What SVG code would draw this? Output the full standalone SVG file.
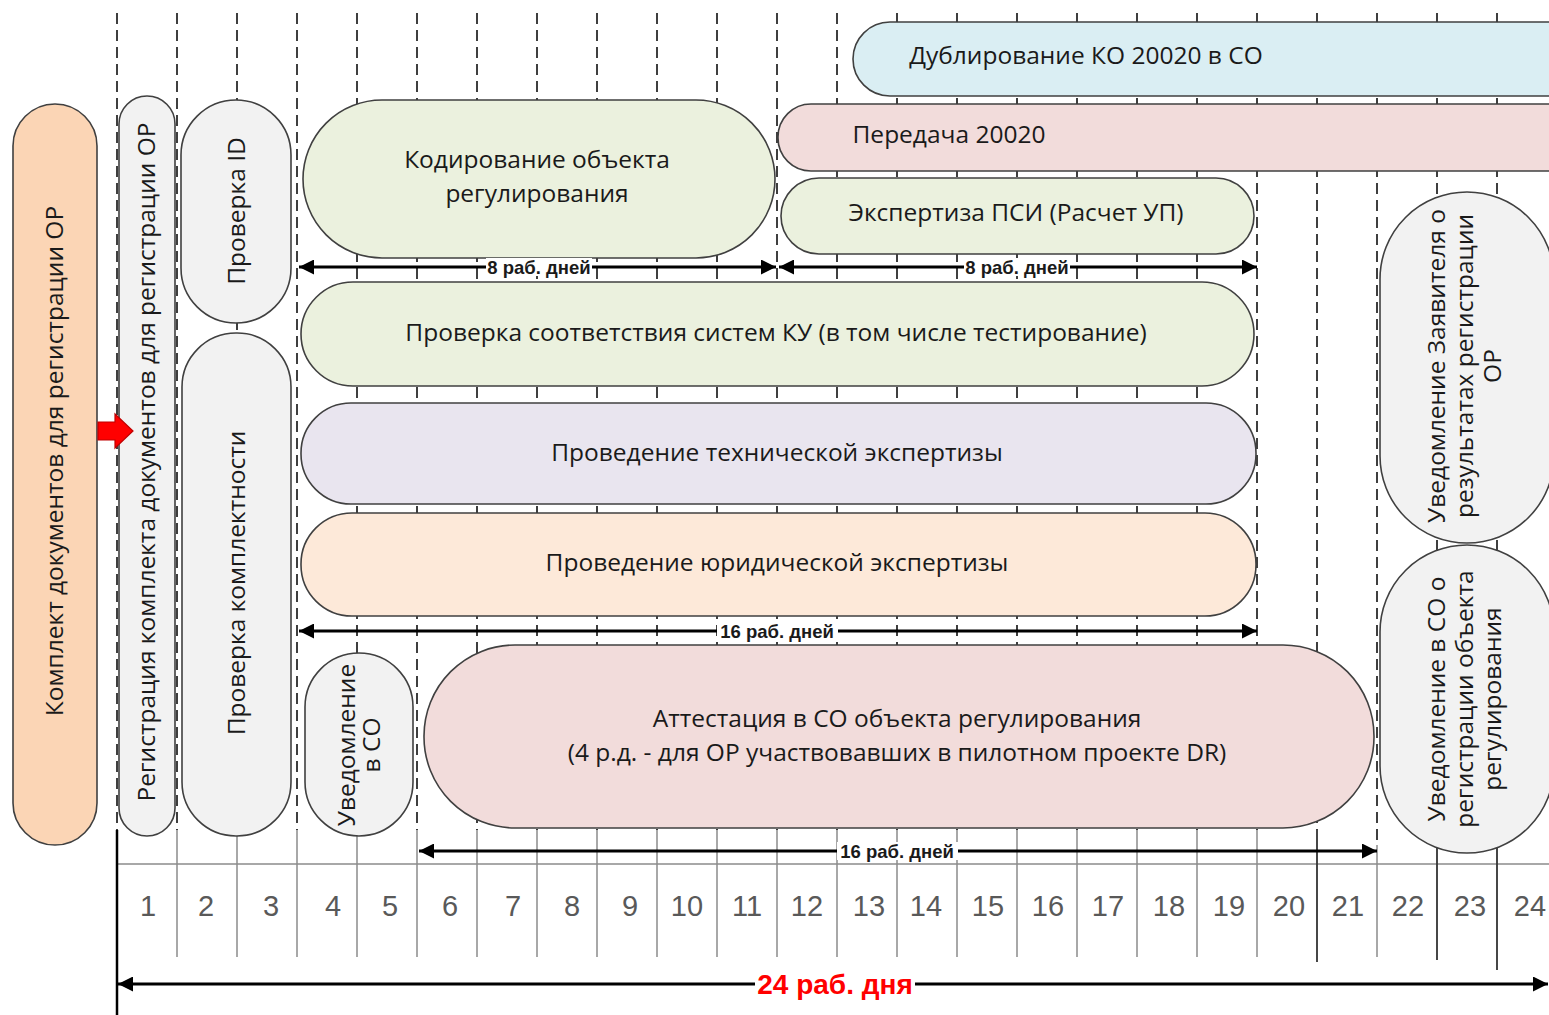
<svg xmlns="http://www.w3.org/2000/svg" width="1549" height="1015" viewBox="0 0 1549 1015">
<style>
.grid{stroke:#000;stroke-width:1.5;stroke-dasharray:11 6;fill:none}
.tbl{stroke:#8c8c8c;stroke-width:1.5;fill:none}
.node{stroke:#404040;stroke-width:1.6}
.t{font-family:"Open Sans","Liberation Sans",sans-serif;font-size:24.5px;fill:#1a1a1a;text-anchor:middle}
.al{font-family:"Liberation Sans",sans-serif;font-weight:bold;font-size:18.5px;fill:#1a1a1a;text-anchor:middle}
.num{font-family:"Liberation Sans",sans-serif;font-size:29px;fill:#595959;text-anchor:middle}
.arr{stroke:#000;stroke-width:3;fill:none;marker-start:url(#ah);marker-end:url(#ah)}
</style>
<defs>
<marker id="ah" viewBox="0 0 10 10" refX="10" refY="5" markerWidth="5.5" markerHeight="5" orient="auto-start-reverse" markerUnits="strokeWidth">
<path d="M0,0 L10,5 L0,10 Z" fill="#000"/>
</marker>
</defs>
<rect width="1549" height="1015" fill="#fff"/>
<g id="grid">
<path class="grid" d="M117,13V830M177,13V830M237,13V830M297,13V830M357,13V830M417,13V830M477,13V830M537,13V830M597,13V830M657,13V830M717,13V830M777,13V830M837,13V830M897,13V830M957,13V830M1017,13V830M1077,13V830M1137,13V830M1197,13V830M1257,13V830M1317,13V830M1377,13V845M1437,13V845M1497,13V845"/>
<path class="tbl" d="M117,864H1549M177,830V957M237,830V957M297,830V957M357,830V957M417,830V957M477,830V957M537,830V957M597,830V957M657,830V957M717,830V957M777,830V957M837,830V957M897,830V957M957,830V957M1017,830V957M1077,830V957M1137,830V957M1197,830V957M1257,830V957M1377,845V957"/>
<path d="M1317,830V962M1437,845V960M1497,845V970" stroke="#333" stroke-width="1.8" fill="none"/>
<path d="M117,830V1015" stroke="#000" stroke-width="2.5" fill="none"/>
</g>
<g id="days">
<text class="num" x="148" y="916">1</text>
<text class="num" x="206" y="916">2</text>
<text class="num" x="271" y="916">3</text>
<text class="num" x="333" y="916">4</text>
<text class="num" x="390" y="916">5</text>
<text class="num" x="450" y="916">6</text>
<text class="num" x="513" y="916">7</text>
<text class="num" x="572" y="916">8</text>
<text class="num" x="630" y="916">9</text>
<text class="num" x="687" y="916">10</text>
<text class="num" x="747" y="916">11</text>
<text class="num" x="807" y="916">12</text>
<text class="num" x="869" y="916">13</text>
<text class="num" x="926" y="916">14</text>
<text class="num" x="988" y="916">15</text>
<text class="num" x="1048" y="916">16</text>
<text class="num" x="1108" y="916">17</text>
<text class="num" x="1169" y="916">18</text>
<text class="num" x="1229" y="916">19</text>
<text class="num" x="1289" y="916">20</text>
<text class="num" x="1348" y="916">21</text>
<text class="num" x="1408" y="916">22</text>
<text class="num" x="1470" y="916">23</text>
<text class="num" x="1530" y="916">24</text>
</g>
<g id="n-komplekt">
<rect class="node" x="13" y="104" width="84" height="741" rx="42" fill="#FBD5B5"/>
<text class="t" transform="translate(63,461) rotate(-90)">Комплект документов для регистрации ОР</text>
</g>
<g id="n-registracia">
<rect class="node" x="119" y="96" width="56" height="740" rx="28" fill="#F2F2F2"/>
<text class="t" transform="translate(155,462) rotate(-90)">Регистрация комплекта документов для регистрации ОР</text>
</g>
<g id="n-arrow-red">
<path d="M98,422H115V414L133,431L115,448V440H98Z" fill="#FF0000" stroke="#C00000" stroke-width="1.2"/>
</g>
<g id="n-proverka-id">
<rect class="node" x="181" y="100" width="110" height="223" rx="55" fill="#F2F2F2"/>
<text class="t" transform="translate(245,211) rotate(-90)">Проверка ID</text>
</g>
<g id="n-proverka-kompl">
<rect class="node" x="182" y="333" width="109" height="503" rx="54" fill="#F2F2F2"/>
<text class="t" transform="translate(245,583) rotate(-90)">Проверка комплектности</text>
</g>
<g id="n-dubl">
<rect class="node" x="853" y="22" width="760" height="74" rx="37" fill="#DAEEF3"/>
<text class="t" x="1086" y="64">Дублирование КО 20020 в СО</text>
</g>
<g id="n-peredacha">
<rect class="node" x="778" y="104" width="820" height="67" rx="33" fill="#F2DCDB"/>
<text class="t" x="949" y="143">Передача 20020</text>
</g>
<g id="n-kodirovanie">
<rect class="node" x="303" y="100" width="472" height="158" rx="79" fill="#EBF1DE"/>
<text class="t" x="537" y="168">Кодирование объекта</text>
<text class="t" x="537" y="202">регулирования</text>
</g>
<g id="n-ekspertiza-psi">
<rect class="node" x="781" y="178" width="473" height="76" rx="38" fill="#EBF1DE"/>
<text class="t" x="1016" y="221">Экспертиза ПСИ (Расчет УП)</text>
</g>
<g id="n-proverka-ku">
<rect class="node" x="301" y="282" width="953" height="104" rx="52" fill="#EBF1DE"/>
<text class="t" x="776" y="341">Проверка соответствия систем КУ (в том числе тестирование)</text>
</g>
<g id="n-tech">
<rect class="node" x="301" y="403" width="955" height="101" rx="50" fill="#E9E5EF"/>
<text class="t" x="777" y="461">Проведение технической экспертизы</text>
</g>
<g id="n-jur">
<rect class="node" x="301" y="513" width="955" height="103" rx="51" fill="#FDE9D9"/>
<text class="t" x="777" y="571">Проведение юридической экспертизы</text>
</g>
<g id="n-uved-so">
<rect class="node" x="305" y="653" width="108" height="183" rx="54" fill="#F2F2F2"/>
<text class="t" transform="translate(359,745) rotate(-90)"><tspan x="0" y="-4">Уведомление</tspan><tspan x="0" y="21">в СО</tspan></text>
</g>
<g id="n-attestacia">
<rect class="node" x="424" y="645" width="950" height="183" rx="91" fill="#F2DCDB"/>
<text class="t" x="897" y="727">Аттестация в СО объекта регулирования</text>
<text class="t" x="897" y="761">(4 р.д. - для ОР участвовавших в пилотном проекте DR)</text>
</g>
<g id="n-uved-zayav">
<rect class="node" x="1380" y="192" width="174" height="351" rx="87" fill="#F2F2F2"/>
<text class="t" transform="translate(1466,366) rotate(-90)"><tspan x="0" y="-21">Уведомление Заявителя о</tspan><tspan x="0" y="7">результатах регистрации</tspan><tspan x="0" y="35">ОР</tspan></text>
</g>
<g id="n-uved-so-reg">
<rect class="node" x="1380" y="545" width="174" height="308" rx="87" fill="#F2F2F2"/>
<text class="t" transform="translate(1466,699) rotate(-90)"><tspan x="0" y="-21">Уведомление в СО о</tspan><tspan x="0" y="7">регистрации объекта</tspan><tspan x="0" y="35">регулирования</tspan></text>
</g>
<g id="connectors">
<path class="arr" d="M299,267H776"/>
<rect x="486" y="258" width="106" height="18" fill="#fff"/>
<text class="al" x="539" y="274">8 раб. дней</text>
<path class="arr" d="M779,267H1257"/>
<rect x="964" y="258" width="106" height="18" fill="#fff"/>
<text class="al" x="1017" y="274">8 раб. дней</text>
<path class="arr" d="M299,631H1257"/>
<rect x="717" y="622" width="121" height="18" fill="#fff"/>
<text class="al" x="777" y="638">16 раб. дней</text>
<path class="arr" d="M419,851H1377"/>
<rect x="837" y="842" width="121" height="18" fill="#fff"/>
<text class="al" x="897" y="858">16 раб. дней</text>
<path class="arr" d="M118,984H1548"/>
<rect x="755" y="968" width="160" height="32" fill="#fff"/>
<text x="835" y="994" font-family="Liberation Sans,sans-serif" font-weight="bold" font-size="28" fill="#FF0000" text-anchor="middle">24 раб. дня</text>
</g>
</svg>
